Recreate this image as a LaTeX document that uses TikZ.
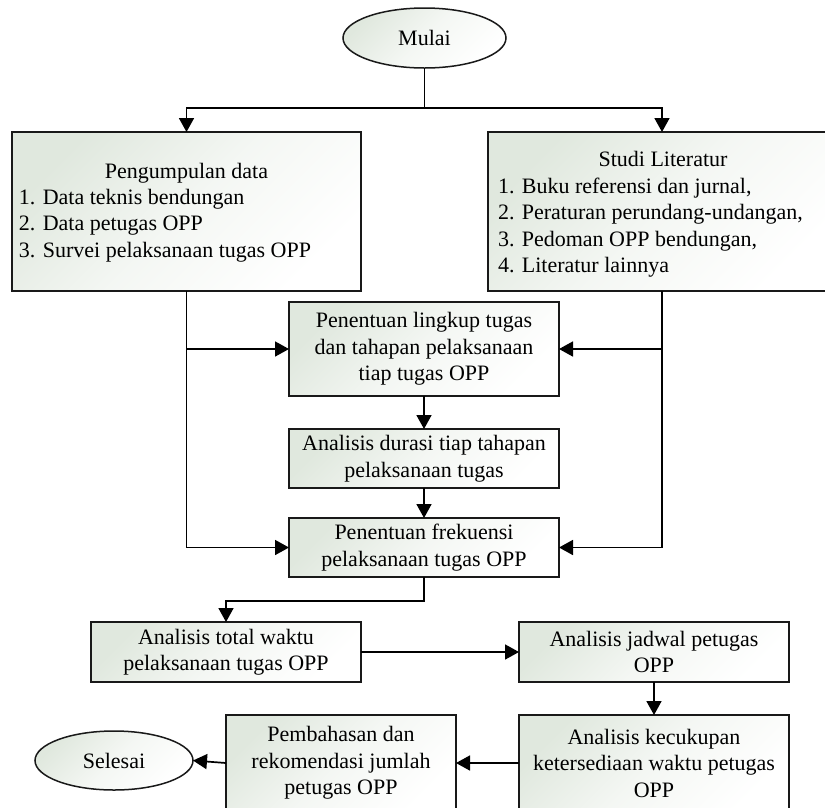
\documentclass[tikz,border=0pt]{standalone}
\usepackage{fontspec}
\setmainfont{Liberation Serif}
\usetikzlibrary{arrows.meta,shapes.geometric}
\definecolor{boxc}{RGB}{224,232,222}
\begin{document}
\begin{tikzpicture}[x=1pt,y=-1pt,
  every node/.style={inner sep=0pt, outer sep=0pt},
  txt/.style={font=\fontsize{22}{26.5}\selectfont},
  boxs/.style={draw=black!90, line width=1.5pt, top color=boxc, bottom color=white, middle color=boxc!35, shading angle=45, rectangle, align=center, txt},
  ell/.style={boxs, ellipse},
  conn/.style={line width=1.7pt, black},
  arr/.style={conn, -{Triangle[length=14pt,width=15pt]}}]
\useasboundingbox (0,0) rectangle (825,807);

\node[ell, minimum width=163pt, minimum height=60pt] (mulai) at (424.5,38) {Mulai};

\node[boxs, minimum width=349pt, minimum height=159pt] (pd) at (186.5,211.5) {};
\node[boxs, minimum width=348pt, minimum height=159pt] (sl) at (662,211.5) {};
\node[txt, anchor=base] (pdt) at (186.5,178) {Pengumpulan data};
\node[txt, anchor=west, align=left] (pdl) at (19,225.5) {1. Data teknis bendungan\\2. Data petugas OPP\\3. Survei pelaksanaan tugas OPP};
\node[txt, anchor=base] (slt) at (663,166) {Studi Literatur};
\node[txt, anchor=west, align=left] (sll) at (498,227.5) {1. Buku referensi dan jurnal,\\2. Peraturan perundang-undangan,\\3. Pedoman OPP bendungan,\\4. Literatur lainnya};

\node[boxs, minimum width=270pt, minimum height=94pt] (b1) at (424,349) {Penentuan lingkup tugas\\dan tahapan pelaksanaan\\tiap tugas OPP};
\node[boxs, minimum width=270pt, minimum height=59pt] (b2) at (424,458.5) {Analisis durasi tiap tahapan\\pelaksanaan tugas};
\node[boxs, minimum width=270pt, minimum height=59pt] (b3) at (424,547.5) {Penentuan frekuensi\\pelaksanaan tugas OPP};
\node[boxs, minimum width=270pt, minimum height=60pt] (tot) at (226,652) {Analisis total waktu\\pelaksanaan tugas OPP};
\node[boxs, minimum width=270pt, minimum height=60pt] (jad) at (654,652) {Analisis jadwal petugas\\OPP};
\node[boxs, minimum width=270pt, minimum height=96pt] (kec) at (654,763) {Analisis kecukupan\\ketersediaan waktu petugas\\OPP};
\node[boxs, minimum width=230pt, minimum height=96pt] (pem) at (341,763) {Pembahasan dan\\rekomendasi jumlah\\petugas OPP};
\node[ell, minimum width=158pt, minimum height=59pt] (sel) at (114,760.5) {Selesai};

\coordinate (j1) at (424.5,108);
\draw[conn] (mulai.south) -- (j1);
\draw[arr] (j1) -| (pd.north);
\draw[arr] (j1) -| (sl.north);
\draw[arr] (pd.south) |- (b3.west);
\draw[arr] (pd.south |- b1.west) -- (b1.west);
\draw[arr] (sl.south) |- (b3.east);
\draw[arr] (sl.south |- b1.east) -- (b1.east);
\draw[arr] (b1.south) -- (b2.north);
\draw[arr] (b2.south) -- (b3.north);
\draw[arr] (b3.south) -- ++(0,24) -| (tot.north);
\draw[arr] (tot.east) -- (jad.west);
\draw[arr] (jad.south) -- (kec.north);
\draw[arr] (kec.west) -- (pem.east);
\draw[arr] (pem.west) -- (sel.east);
\end{tikzpicture}
\end{document}
